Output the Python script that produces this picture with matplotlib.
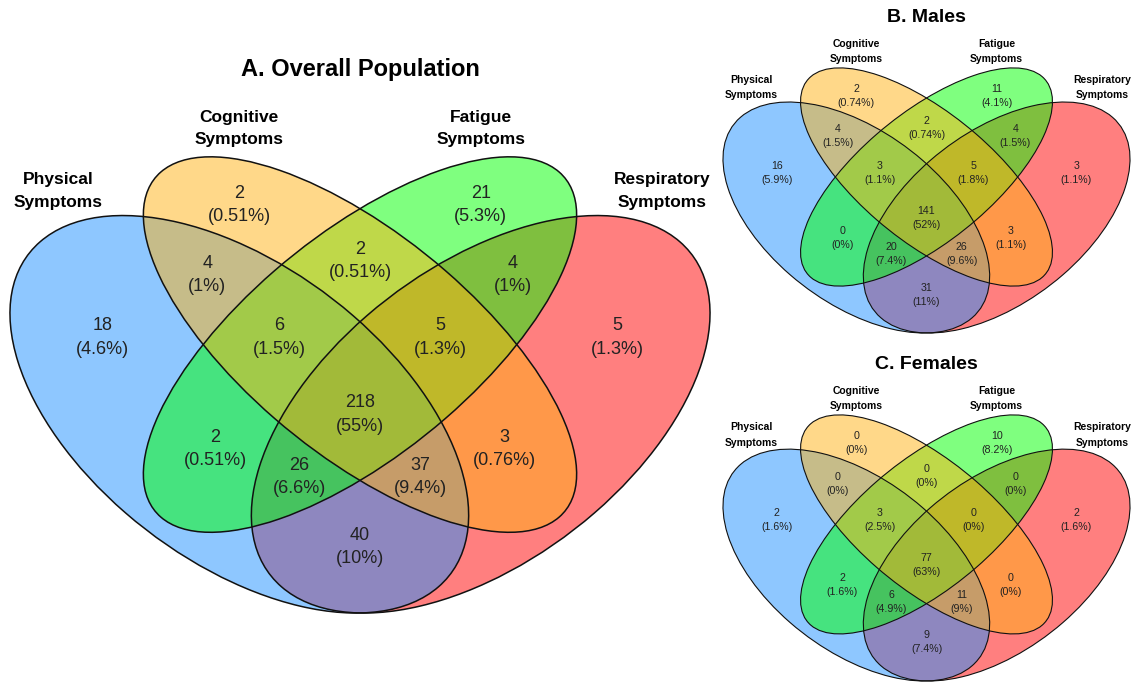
import matplotlib
matplotlib.use("Agg")
import matplotlib.pyplot as plt
from matplotlib.patches import Ellipse

plt.rcParams['font.family'] = ['Liberation Sans', 'DejaVu Sans']

set_names = ["Physical\nSymptoms", "Cognitive\nSymptoms", "Fatigue\nSymptoms", "Respiratory\nSymptoms"]
set_colors = ["#1E90FF", "#FFB214", "#00FF00", "#FF0000"]

# regions (P=physical, C=cognitive, F=fatigue, R=respiratory)
regions = ["C", "CF", "F", "PC", "PCF", "PCFR", "CFR", "FR", "P", "PF", "PFR", "PCR", "CR", "R", "PR"]
overall = [2, 2, 21, 4, 6, 218, 5, 4, 18, 2, 26, 37, 3, 5, 40]
males = [2, 2, 11, 4, 3, 141, 5, 4, 16, 0, 20, 26, 3, 3, 31]
females = [0, 0, 10, 0, 3, 77, 0, 0, 2, 2, 6, 11, 0, 2, 9]

# 4-set ellipse layout in a unit square
ell_center = [(0.35, 0.47), (0.50, 0.57), (0.50, 0.57), (0.65, 0.47)]
ell_ab = [(0.35, 0.20), (0.35, 0.15), (0.35, 0.15), (0.35, 0.20)]
ell_angle = [-45, -45, 45, 45]
fill_order = [3, 0, 2, 1]
region_xy = [(0.35, 0.77), (0.5, 0.69), (0.65, 0.77), (0.31, 0.67), (0.4, 0.58),
             (0.5, 0.47), (0.6, 0.58), (0.69, 0.67), (0.18, 0.58), (0.32, 0.42),
             (0.425, 0.38), (0.575, 0.38), (0.68, 0.42), (0.82, 0.58), (0.5, 0.28)]
cat_xy = [(0.125, 0.79), (0.35, 0.88), (0.65, 0.88), (0.875, 0.79)]

W, H = 1137, 685
U0, U1, V0, V1 = 0.065, 0.935, 0.185, 0.839

fig = plt.figure(figsize=(W / 100, H / 100), dpi=100)


def venn_panel(box, title, counts, title_fs, cat_fs, num_fs, lw):
    x0, x1, y0, y1 = box
    sx = (x1 - x0) / (U1 - U0)
    sy = (y1 - y0) / (V1 - V0)
    left = (x0 - U0 * sx) / W
    bottom = 1 - (y1 + V0 * sy) / H
    ax = fig.add_axes([left, bottom, sx / W, sy / H])
    ax.set_xlim(0, 1)
    ax.set_ylim(0, 1)
    ax.axis('off')

    for i in fill_order:
        a, b = ell_ab[i]
        ax.add_patch(Ellipse(ell_center[i], 2 * a, 2 * b, angle=ell_angle[i],
                             facecolor=set_colors[i], alpha=0.5, edgecolor='none',
                             clip_on=False))
    for i in range(4):
        a, b = ell_ab[i]
        ax.add_patch(Ellipse(ell_center[i], 2 * a, 2 * b, angle=ell_angle[i],
                             fill=False, edgecolor='#111111', lw=lw, clip_on=False))

    total = sum(counts)
    for (x, y), n in zip(region_xy, counts):
        pct = 100 * n / total
        ax.text(x, y, f"{n}\n({pct:.2g}%)", ha='center', va='center',
                fontsize=num_fs, color='#222222', linespacing=1.5)

    for (x, y), name in zip(cat_xy, set_names):
        ax.text(x, y, name, ha='center', va='center', fontsize=cat_fs,
                fontweight='bold', color='black', linespacing=1.65)

    ax.text(0.5, 0.964, title, ha='center', va='center', fontsize=title_fs,
            fontweight='bold', color='black')


venn_panel((10, 710, 157, 613), "A. Overall Population", overall, 17, 12.5, 13, 1.1)
venn_panel((723, 1130, 68, 333), "B. Males", males, 14, 7.5, 7.7, 0.8)
venn_panel((723, 1130, 415, 681), "C. Females", females, 14, 7.5, 7.7, 0.8)

fig.savefig("out.png", dpi=100)
